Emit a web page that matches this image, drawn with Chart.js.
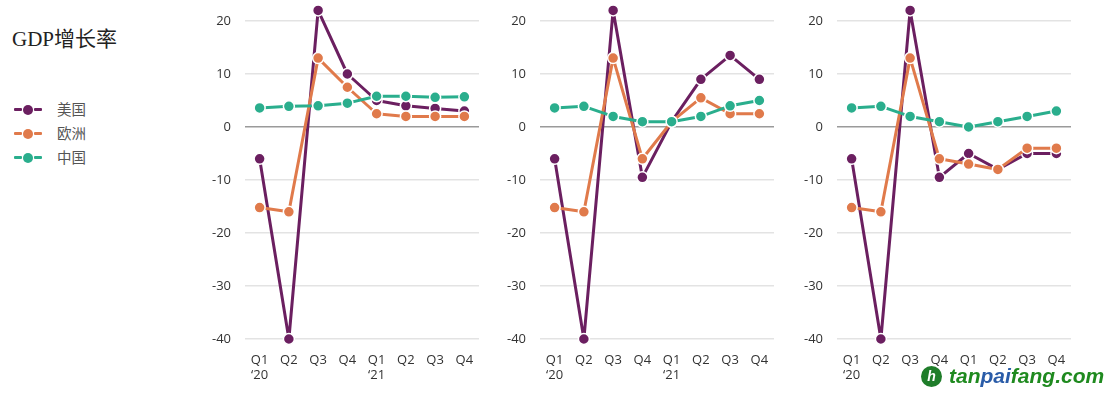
<!DOCTYPE html>
<html>
<head>
<meta charset="utf-8">
<script src="https://cdn.jsdelivr.net/npm/chart.js@4"></script>
<style>
  body { margin: 0; background: #fff; width: 1119px; height: 396px; overflow: hidden; position: relative; }
  canvas { position: absolute; top: 0; }
  #title { position: absolute; left: 12px; top: 22px; font: 21px "Liberation Serif", "Noto Sans CJK SC", serif; color: #222; }
  .item { position: absolute; left: 14px; height: 16px; font: 14.5px "Noto Sans CJK SC", sans-serif; color: #555; }
  .item .dash { position: absolute; top: 7px; height: 3px; width: 8px; border-radius: 1px; }
  .item .dot { position: absolute; left: 9px; top: 3.5px; width: 10px; height: 10px; border-radius: 50%; }
  .item span.txt { position: absolute; left: 43px; top: -3px; white-space: nowrap; }
  #mark { position: absolute; left: 921px; top: 364px; height: 26px; }
  #mark .logo { position: absolute; left: 0; top: 2px; width: 21px; height: 21px; border-radius: 50%; background: #1f7d2a; color: #fff; font: bold italic 14px "Liberation Sans", sans-serif; text-align: center; line-height: 21px; }
  #mark .txt { position: absolute; left: 28px; top: 0; font: bold italic 21px "Liberation Sans", sans-serif; color: #1f8a1f; white-space: nowrap; }
  #mark .txt b { color: #2a5ca8; }
</style>
</head>
<body>
<div id="title">GDP增长率</div>
<div id="legend"></div>
<canvas id="c1" width="289" height="396" style="left:190px"></canvas>
<canvas id="c2" width="289" height="396" style="left:485px"></canvas>
<canvas id="c3" width="289" height="396" style="left:782px"></canvas>
<div id="mark"><div class="logo">h</div><div class="txt">tan<b>pai</b>fang.com</div></div>
<script>
// categories
const quarters = ['Q1', 'Q2', 'Q3', 'Q4', 'Q1', 'Q2', 'Q3', 'Q4'];
const years = ['‘20', '', '', '', '‘21', '', '', ''];
const yearsLast = ['‘20', '', '', '', '', '', '', ''];
const seriesNames = ['美国', '欧洲', '中国'];
const seriesColors = ['#6b1f60', '#e07a4b', '#2aae8d'];
const yTicks = [-40, -30, -20, -10, 0, 10, 20];

// panel 1
const usA = [-6, -40, 22, 10, 5, 4, 3.5, 3];
const euA = [-15.2, -16, 13, 7.5, 2.5, 2, 2, 2];
const cnA = [3.6, 3.9, 4, 4.5, 5.8, 5.8, 5.6, 5.7];
// panel 2
const usB = [-6, -40, 22, -9.5, 1, 9, 13.5, 9];
const euB = [-15.2, -16, 13, -6, 1, 5.5, 2.5, 2.5];
const cnB = [3.6, 3.9, 2, 1, 1, 2, 4, 5];
// panel 3
const usC = [-6, -40, 22, -9.5, -5, -8, -5, -5];
const euC = [-15.2, -16, 13, -6, -7, -8, -4, -4];
const cnC = [3.6, 3.9, 2, 1, 0, 1, 2, 3];

Chart.defaults.font.family = "'Open Sans', sans-serif";
Chart.defaults.font.size = 13;
Chart.defaults.color = '#333';

// legend
const legend = document.getElementById('legend');
seriesNames.forEach((name, i) => {
  const c = seriesColors[i];
  const d = document.createElement('div');
  d.className = 'item';
  d.style.top = (101 + i * 24) + 'px';
  d.innerHTML = '<div class="dash" style="left:0;background:' + c + '"></div>' +
    '<div class="dot" style="background:' + c + '"></div>' +
    '<div class="dash" style="left:20px;background:' + c + '"></div>' +
    '<span class="txt">' + name + '</span>';
  legend.appendChild(d);
});

function noPad(s) {
  s.paddingTop = 0; s.paddingBottom = 0; s.paddingLeft = 0; s.paddingRight = 0;
}

function makeChart(id, us, eu, cn, yrs) {
  const values = [us, eu, cn];
  return new Chart(document.getElementById(id), {
    type: 'line',
    data: {
      labels: quarters.map((q, i) => [q, yrs[i]]),
      datasets: values.map((v, i) => ({
        label: seriesNames[i],
        data: v,
        borderColor: seriesColors[i],
        backgroundColor: seriesColors[i],
        borderWidth: 3,
        borderJoinStyle: 'round',
        pointRadius: 5.5,
        pointBorderColor: '#fff',
        pointBorderWidth: 1.5,
        pointBackgroundColor: seriesColors[i],
        tension: 0,
        clip: false,
        order: 3 - i
      }))
    },
    options: {
      responsive: false,
      animation: false,
      layout: { autoPadding: false, padding: { top: 10.4, left: 0, right: 0, bottom: 0 } },
      plugins: { legend: { display: false }, tooltip: { enabled: false } },
      scales: {
        x: {
          offset: true,
          grid: { display: false, drawTicks: false },
          border: { display: false },
          ticks: { padding: 13, maxRotation: 0, autoSkip: false, color: '#333' },
          afterFit: s => { s.height = 57; noPad(s); }
        },
        y: {
          min: -40,
          max: 22,
          afterBuildTicks: s => { s.ticks = yTicks.map(v => ({ value: v })); },
          grid: {
            drawTicks: false,
            color: c => c.tick && c.tick.value === 0 ? '#9a9a9a' : '#e3e3e3',
            lineWidth: 1.5
          },
          border: { display: false },
          ticks: { padding: 14, color: '#333' },
          afterFit: s => { s.width = 55; noPad(s); }
        }
      }
    }
  });
}

makeChart('c1', usA, euA, cnA, years);
makeChart('c2', usB, euB, cnB, years);
makeChart('c3', usC, euC, cnC, yearsLast);
</script>
</body>
</html>
